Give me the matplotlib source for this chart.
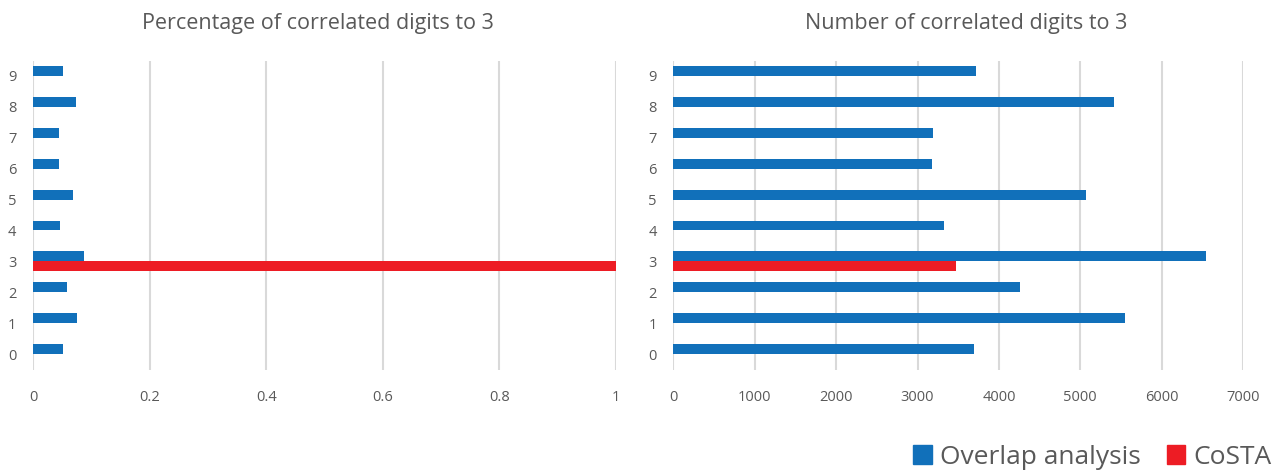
import numpy as np
import matplotlib.pyplot as plt
from matplotlib.patches import Patch

plt.rcParams['font.family'] = ['Open Sans', 'DejaVu Sans']

# digits on the vertical axis
digits = [0, 1, 2, 3, 4, 5, 6, 7, 8, 9]

# share of correlated digits (left panel)
overlap_pct = [0.051, 0.076, 0.058, 0.088, 0.046, 0.069, 0.044, 0.044, 0.073, 0.051]
costa_pct = [0, 0, 0, 1.0, 0, 0, 0, 0, 0, 0]

# count of correlated digits (right panel)
overlap_num = [3697, 5551, 4255, 6543, 3325, 5071, 3177, 3185, 5416, 3722]
costa_num = [0, 0, 0, 3476, 0, 0, 0, 0, 0, 0]

blue = '#1170ba'
red = '#ed1c24'
grey_txt = '#595959'
grid_col = '#d9d9d9'

W, H = 1285, 474
fig = plt.figure(figsize=(W / 100, H / 100), dpi=100)

def px_axes(x0, x1, y0, y1):
    return fig.add_axes([x0 / W, 1 - y1 / H, (x1 - x0) / W, (y1 - y0) / H])

ax1 = px_axes(33, 616, 60.5, 369.5)
ax2 = px_axes(673.4, 1243, 60.5, 369.5)

y = np.arange(len(digits))
bh = 0.32

def draw(ax, blue_vals, red_vals, xmax, xticks, xlabels):
    ax.barh(y + bh / 2, blue_vals, height=bh, color=blue, zorder=3)
    mask = np.array(red_vals) > 0
    ax.barh(y[mask] - bh / 2, np.array(red_vals)[mask], height=bh, color=red, zorder=3)
    ax.set_xlim(0, xmax)
    ax.set_ylim(-0.5, 9.5)
    ax.set_yticks(y)
    ax.set_yticklabels([str(d) for d in digits])
    ax.set_xticks(xticks)
    ax.set_xticklabels(xlabels)
    ax.grid(axis='x', color=grid_col, linewidth=1.5, zorder=0)
    ax.tick_params(length=0, colors=grey_txt, labelsize=10.5)
    ax.tick_params(axis='y', pad=12)
    ax.tick_params(axis='x', pad=15)
    for s in ax.spines.values():
        s.set_visible(False)

draw(ax1, overlap_pct, costa_pct, 1.0, [0, 0.2, 0.4, 0.6, 0.8, 1.0],
     ['0', '0.2', '0.4', '0.6', '0.8', '1'])
draw(ax2, overlap_num, costa_num, 7000, range(0, 7001, 1000),
     [str(v) for v in range(0, 7001, 1000)])

fig.text(318 / W, 1 - 23 / H, 'Percentage of correlated digits to 3',
         ha='center', va='center', fontsize=15.5, color=grey_txt)
fig.text(966 / W, 1 - 23 / H, 'Number of correlated digits to 3',
         ha='center', va='center', fontsize=15.5, color=grey_txt)

handles = [Patch(color=blue, label='Overlap analysis'), Patch(color=red, label='CoSTA')]
fig.legend(handles=handles, loc='center right', bbox_to_anchor=(1282 / W, 1 - 457 / H),
           ncol=2, frameon=False, fontsize=19, labelcolor=grey_txt,
           handlelength=0.7, handleheight=0.7, handletextpad=0.3, columnspacing=1.0,
           borderaxespad=0)

fig.savefig('out.png', dpi=100)
